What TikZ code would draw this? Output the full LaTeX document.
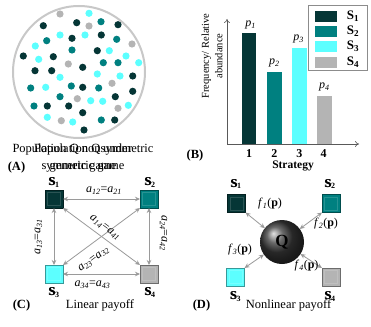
\documentclass[tikz,border=0pt]{standalone}
\usepackage{fontspec}
\setmainfont{Liberation Serif}
\usetikzlibrary{arrows.meta,shadings}
\definecolor{cdk}{HTML}{053636}
\definecolor{ctl}{HTML}{008080}
\definecolor{ccy}{HTML}{5CFFFF}
\definecolor{cgy}{HTML}{B4B4B4}
\definecolor{arr}{HTML}{9A9A9A}
\definecolor{ring}{HTML}{C8C8C8}
\newcommand{\pay}[2]{\textit{a}\textsubscript{\textit{#1}}=\textit{a}\textsubscript{\textit{#2}}}
\newcommand{\slab}[1]{\textbf{S\textsubscript{#1}}}
\newcommand{\fpay}[1]{\textit{f}\textsubscript{\textit{#1}}(\textbf{p})}
\newcommand{\plab}[1]{\textit{p}\textsubscript{\textit{#1}}}
\begin{document}
\begin{tikzpicture}[x=1pt,y=-1pt,
  every node/.style={inner sep=0pt, outer sep=0pt},
  sbox/.style={minimum size=18pt, draw=#1!60!black, fill=#1, line width=0.7pt,
    path picture={\draw[#1!85!white, line width=0.6pt]
      ([shift={(2.4pt,2.4pt)}]path picture bounding box.south west) rectangle
      ([shift={(-2.4pt,-2.4pt)}]path picture bounding box.north east);}},
  dbl/.style={draw=arr, line width=0.8pt, {Stealth[length=5pt,width=4.5pt]}-{Stealth[length=5pt,width=4.5pt]}},
  txt/.style={font=\fontsize{12.5}{15}\selectfont},
  sml/.style={font=\fontsize{12}{14}\selectfont},
  panel/.style={font=\fontsize{12.5}{15}\selectfont\bfseries},
  lbl/.style={font=\fontsize{12}{14}\selectfont}
]
\useasboundingbox (0,0) rectangle (371,326);
\fill[white] (0,0) rectangle (371,326);

% ---------- Panel A ----------
\draw[ring, line width=2pt] (79,72) circle (66);
\foreach \x/\y/\c in {60/14/cgy, 89/13.3/ccy, 43.3/25.7/cdk, 76.7/22.7/cdk, 89/26/cgy, 101/21.7/ctl, 118/24.7/cdk,
  60/35/ccy, 72/38.3/cdk, 85/35/ccy, 101.3/35/cdk, 46.7/40.7/ctl, 116.7/39.3/ctl, 35.3/46/ccy, 132/44/cgy,
  72/50/ctl, 97.3/50.7/cdk, 109.3/50.7/ccy, 23.3/56/cdk, 38.7/59.3/ccy, 53.3/56.7/cdk, 126/56/ccy,
  68.3/64/cgy, 82.7/67.3/cdk, 103.3/62.7/ctl, 118/62.7/ctl, 138.7/62.7/ccy, 35/70.7/cdk, 51.7/70.7/cdk,
  60/77.3/ccy, 97.3/74/ccy, 120/76/ccy, 132.7/76/cdk, 112/83.3/cgy, 30.7/88/ctl, 45.7/87.3/ccy, 71.3/86/ctl,
  82.7/87.3/cdk, 98.7/88/ctl, 132.7/91.3/cdk, 60/96.7/ctl, 77.3/98.7/cgy, 115.3/96.7/cdk, 34/106/ctl,
  47.3/106/cdk, 68.7/106/cdk, 90.7/100.7/ccy, 102.7/101.3/ccy, 118/108.3/cgy, 128.3/105.3/ccy,
  82.7/112.7/cdk, 47.3/117.3/ccy, 61.3/120.7/cgy, 72.7/122/ccy, 101.3/120/ctl, 114.7/120/cdk, 84/130/cdk}
  \fill[\c] (\x,\y) circle (3.6);
\node[txt, align=center, font=\fontsize{12.5}{16.5}\selectfont] (pa1) at (83,158) {Population Q nonsymmetric\\generic game};
\node[txt, align=center, font=\fontsize{12.5}{16.5}\selectfont] (pa2) at (83,158) {Population Q under\\symmetric game};
\node[panel] (A) at (16.5,167.5) {(A)};

% ---------- Panel B ----------
\coordinate (O) at (227,144);
\coordinate (yt) at (227,19);
\coordinate (xt) at (359,144);
\draw[black!65, line width=0.6pt, -{To[length=4pt,width=6pt]}] (O) -- (yt);
\draw[black!65, line width=0.6pt, -{To[length=4pt,width=6pt]}] (O) -- (xt);
\fill[cdk] (241.7,144) rectangle (256,33.3);
\fill[ctl] (266.7,144) rectangle (281.7,71.7);
\fill[ccy] (291.7,144) rectangle (306.7,47.7);
\fill[cgy] (316.7,144) rectangle (331.7,95.7);
\node[sml] (p1) at (250.5,25) {\plab{1}};
\node[sml] (p2) at (274.3,62.7) {\plab{2}};
\node[sml] (p3) at (298.5,39.3) {\plab{3}};
\node[sml] (p4) at (324.3,87.3) {\plab{4}};
\node[sml, font=\fontsize{12}{14}\selectfont\bfseries] (t1) at (249,154) {1};
\node[sml, font=\fontsize{12}{14}\selectfont\bfseries] (t2) at (274.3,154) {2};
\node[sml, font=\fontsize{12}{14}\selectfont\bfseries] (t3) at (299.3,154) {3};
\node[sml, font=\fontsize{12}{14}\selectfont\bfseries] (t4) at (323.5,154) {4};
\node[font=\fontsize{11.5}{14}\selectfont\bfseries] (strat) at (293,165.5) {Strategy};
\node[rotate=90, align=center, font=\fontsize{10.5}{13.5}\selectfont] (ylab) at (212,56) {Frequency/ Relative\\abundance};
\node[panel] (B) at (195,155) {(B)};
% legend
\draw[black!45, line width=0.6pt] (308.3,5) rectangle (367.7,70.7);
\fill[cdk] (315,10.7) rectangle (337.3,21.7);
\fill[ctl] (315,26) rectangle (337.3,36.7);
\fill[ccy] (315,40.7) rectangle (337.3,52);
\fill[cgy] (315,56.7) rectangle (337.3,67.7);
\node[font=\fontsize{13}{15}\selectfont] (lg1) at (353,16.5) {\slab{1}};
\node[font=\fontsize{13}{15}\selectfont] (lg2) at (353,31.5) {\slab{2}};
\node[font=\fontsize{13}{15}\selectfont] (lg3) at (353,46.5) {\slab{3}};
\node[font=\fontsize{13}{15}\selectfont] (lg4) at (353,62) {\slab{4}};

% ---------- Panel C ----------
\node[sbox=cdk] (c1) at (54,199) {};
\node[sbox=ctl] (c2) at (149,199) {};
\node[sbox=ccy] (c3) at (54,274) {};
\node[sbox=cgy] (c4) at (149,274) {};
\draw[dbl] (c1) -- (c2);
\draw[dbl] (c3) -- (c4);
\draw[dbl] (c1) -- (c3);
\draw[dbl] (c2) -- (c4);
\draw[dbl] (c1.south east) -- (c4.north west);
\draw[dbl] (c2.south west) -- (c3.north east);
\node[lbl] (l12) at (104,190.5) {\pay{12}{21}};
\node[lbl] (l34) at (92.5,284.5) {\pay{34}{43}};
\node[lbl, rotate=90] (l13) at (38.5,237) {\pay{13}{31}};
\node[lbl, rotate=-90] (l24) at (163.5,233) {\pay{24}{42}};
\node[lbl, rotate=-36.5] (l14) at (105,228) {\pay{14}{41}};
\node[lbl, rotate=36.5] (l23) at (94,259.5) {\pay{23}{32}};
\node[lbl] (s1c) at (54,182.5) {\slab{1}};
\node[lbl] (s1cb) at (52.5,182) {\textbf{S}};
\node[lbl] (s2c) at (150,182.5) {\slab{2}};
\node[lbl] (s2cb) at (148.5,182) {\textbf{S}};
\node[lbl] (s3c) at (54,292.5) {\slab{3}};
\node[lbl] (s3cb) at (52.5,292) {\textbf{S}};
\node[lbl] (s4c) at (150,292.5) {\slab{4}};
\node[lbl] (s4cb) at (148.5,292) {\textbf{S}};
\node[panel] (C) at (21.5,305) {(C)};
\node[txt] (lin) at (100,305) {Linear payoff};

% ---------- Panel D ----------
\node[sbox=cdk] (d1) at (236.5,203.5) {};
\node[sbox=ctl] (d2) at (331,203.5) {};
\node[sbox=ccy] (d3) at (235.5,277) {};
\node[sbox=cgy] (d4) at (331,277) {};
\node[circle, minimum size=44pt, shading=ball, ball color=black!78,
  font=\fontsize{17}{18}\selectfont\bfseries] (q) at (282,242) {Q};
\draw[dbl] (d1.south east) -- (q);
\draw[dbl] (d2.south west) -- (q);
\draw[dbl] (d3.north east) -- (q);
\draw[dbl] (d4.north west) -- (q);
\node[lbl] (f1) at (270,203.3) {\fpay{1}};
\node[lbl] (f2) at (326,223.5) {\fpay{2}};
\node[lbl] (f3) at (240,250) {\fpay{3}};
\node[lbl] (f4) at (306.5,266) {\fpay{4}};
\node[lbl] (s1d) at (236,184) {\slab{1}};
\node[lbl] (s1db) at (234.5,183.5) {\textbf{S}};
\node[lbl] (s2d) at (330,184) {\slab{2}};
\node[lbl] (s2db) at (328.5,183.5) {\textbf{S}};
\node[lbl] (s3d) at (235.5,296.5) {\slab{3}};
\node[lbl] (s3db) at (234,296) {\textbf{S}};
\node[lbl] (s4d) at (330,296.5) {\slab{4}};
\node[lbl] (s4db) at (328.5,296) {\textbf{S}};
\node[panel] (D) at (201.5,305) {(D)};
\node[txt] (nonlin) at (288.5,305) {Nonlinear payoff};
\end{tikzpicture}
\end{document}
